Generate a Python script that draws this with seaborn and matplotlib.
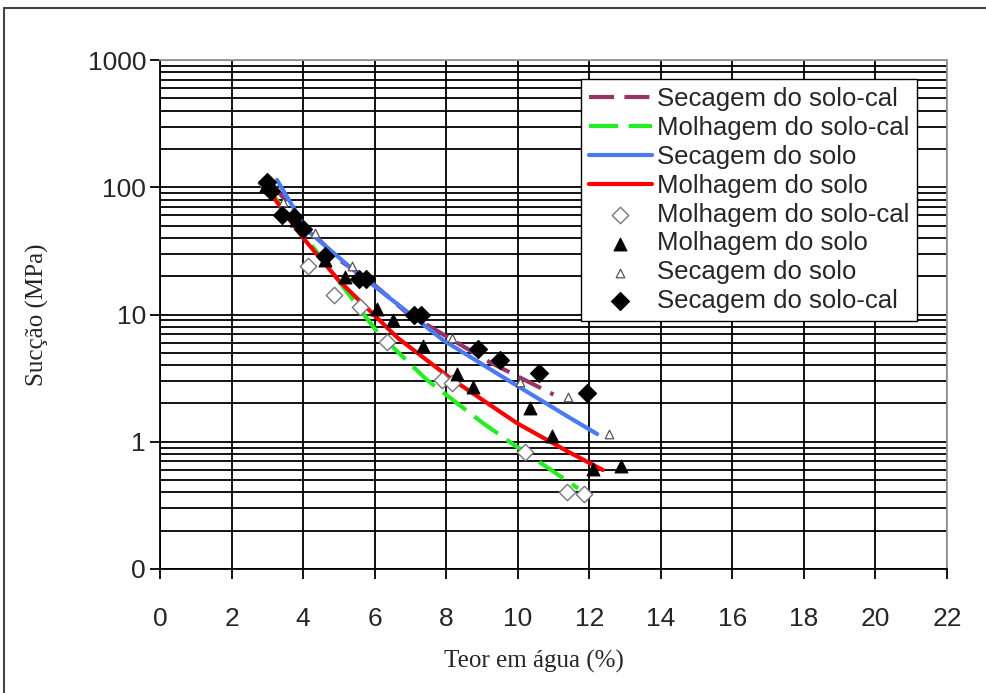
import numpy as np
import pandas as pd
import matplotlib
matplotlib.use("Agg")
import matplotlib.pyplot as plt
from matplotlib.lines import Line2D
from matplotlib.ticker import FixedLocator, LogLocator, NullFormatter
import seaborn as sns

# ---- fitted curves (teor em água %, sucção MPa) ----
sec_solocal_x = [3.1, 4.0, 5.0, 5.93, 6.9, 8.1, 9.23, 11.0]
sec_solocal_y = [110, 52, 27, 17.7, 10.3, 6.5, 4.2, 2.35]

mol_solocal_x = [2.88, 3.83, 5.54, 6.07, 7.46, 9.03, 9.98, 11.69]
mol_solocal_y = [108, 50, 11.5, 7.3, 3.06, 1.40, 0.91, 0.43]

sec_solo_x = [3.27, 4.11, 5.31, 6.6, 7.91, 9.7, 11.46, 12.22]
sec_solo_y = [114, 46, 23.6, 12.3, 6.3, 3.08, 1.54, 1.15]

mol_solo_x = [2.88, 4.0, 5.0, 6.63, 8.11, 9.98, 11.46, 12.38]
mol_solo_y = [108, 40, 18.5, 6.6, 3.17, 1.40, 0.82, 0.60]

# ---- measured points ----
pts_mol_solocal_x = [2.95, 4.14, 4.86, 5.59, 6.35, 7.88, 8.16, 10.2, 11.38, 11.85]
pts_mol_solocal_y = [108, 24, 14.2, 11.5, 6.1, 3.05, 2.9, 0.83, 0.40, 0.39]

pts_mol_solo_x = [2.95, 3.8, 4.6, 5.17, 6.07, 6.5, 7.35, 8.3, 8.75, 10.35, 10.95, 12.1, 12.9]
pts_mol_solo_y = [105, 55, 27, 19.7, 11, 9, 5.7, 3.4, 2.7, 1.85, 1.1, 0.61, 0.65]

pts_sec_solo_x = [3.0, 3.45, 4.33, 5.37, 7.25, 8.15, 9.55, 10.05, 11.4, 12.55]
pts_sec_solo_y = [112, 77, 44, 24, 10, 6.5, 4.5, 2.95, 2.25, 1.15]

pts_sec_solocal_x = [3.0, 3.1, 3.4, 3.75, 4.0, 4.6, 5.55, 5.75, 7.1, 7.3, 8.9, 9.5, 10.6, 11.95]
pts_sec_solocal_y = [110, 94, 60, 58, 47, 29, 19, 19, 10, 10, 5.4, 4.4, 3.5, 2.4]

x_ticks = list(range(0, 23, 2))
y_ticks = [0.1, 1, 10, 100, 1000]
y_tick_labels = ["0", "1", "10", "100", "1000"]

sns.set_style("white")
plt.rcParams["font.family"] = ["Liberation Sans", "DejaVu Sans"]

fig = plt.figure(figsize=(9.87, 6.93), dpi=100)
ax = fig.add_axes([160 / 987, 1 - 569 / 693, 787 / 987, 509 / 693])

line_specs = [
    (sec_solocal_x, sec_solocal_y, "Secagem do solo-cal", "#993366", (0, (6, 2.5))),
    (mol_solocal_x, mol_solocal_y, "Molhagem do solo-cal", "#22EE22", (0, (7, 2.5))),
    (sec_solo_x, sec_solo_y, "Secagem do solo", "#4A7BF5", "-"),
    (mol_solo_x, mol_solo_y, "Molhagem do solo", "#FF0000", "-"),
]
for xs, ys, lab, col, ls in line_specs:
    df = pd.DataFrame({"x": xs, "y": ys})
    sns.lineplot(data=df, x="x", y="y", ax=ax, sort=False, color=col,
                 linewidth=3.0, linestyle=ls, label=lab, zorder=3)

point_specs = [
    (pts_mol_solocal_x, pts_mol_solocal_y, "Molhagem do solo-cal", "D", "white", "#777777", 70, 1.0),
    (pts_mol_solo_x, pts_mol_solo_y, "Molhagem do solo", "^", "black", "black", 85, 0.8),
    (pts_sec_solo_x, pts_sec_solo_y, "Secagem do solo", "^", "white", "#555555", 38, 0.9),
    (pts_sec_solocal_x, pts_sec_solocal_y, "Secagem do solo-cal", "D", "black", "black", 85, 0.8),
]
for xs, ys, lab, mk, fc, ec, s, lw in point_specs:
    df = pd.DataFrame({"x": xs, "y": ys})
    sns.scatterplot(data=df, x="x", y="y", ax=ax, marker=mk, s=s,
                    facecolor=fc, edgecolor=ec, linewidth=lw, label=lab, zorder=4)

ax.set_yscale("log")
ax.set_xlim(0, 22)
ax.set_ylim(0.1, 1000)

ax.xaxis.set_major_locator(FixedLocator(x_ticks))
ax.set_xticklabels([str(v) for v in x_ticks])
ax.yaxis.set_major_locator(FixedLocator(y_ticks))
ax.set_yticklabels(y_tick_labels)
ax.yaxis.set_minor_locator(LogLocator(base=10, subs=np.arange(2, 10)))
ax.yaxis.set_minor_formatter(NullFormatter())

ax.grid(True, which="major", axis="both", color="black", linewidth=1.3)
ax.grid(True, which="minor", axis="y", color="black", linewidth=1.3)
ax.set_axisbelow(True)

ax.tick_params(axis="both", which="major", direction="out", length=7, width=1.3,
               color="black", left=True, bottom=True)
ax.tick_params(axis="x", which="major", labelsize=19, pad=20)
ax.tick_params(axis="y", which="major", labelsize=19, pad=3)
ax.tick_params(axis="y", which="minor", length=0)

for side in ["left", "bottom"]:
    ax.spines[side].set_color("black")
    ax.spines[side].set_linewidth(1.3)
for side in ["top", "right"]:
    ax.spines[side].set_color("#999999")
    ax.spines[side].set_linewidth(1.3)

ax.set_xlabel("Teor em água (%)", family=["Liberation Serif", "DejaVu Serif"], fontsize=18)
ax.set_ylabel("Sucção (MPa)", family=["Liberation Serif", "DejaVu Serif"], fontsize=18)
ax.xaxis.set_label_coords(0.475, -0.159)
ax.yaxis.set_label_coords(-0.141, 0.5)

leg = ax.legend(loc="upper right", bbox_to_anchor=(0.962, 0.962), fontsize=18.5,
                frameon=True, fancybox=False, framealpha=1, edgecolor="black",
                handlelength=2.45, handletextpad=0.2, labelspacing=0.19,
                borderpad=0.3, borderaxespad=0, markerscale=1.0)
leg.get_frame().set_linewidth(1.0)

# outer frame around the figure
fig.add_artist(Line2D([4 / 987, 4 / 987], [0, 1 - 8 / 693], transform=fig.transFigure,
                      color="#444444", linewidth=1.5))
fig.add_artist(Line2D([4 / 987, 1], [1 - 8 / 693, 1 - 8 / 693], transform=fig.transFigure,
                      color="#444444", linewidth=1.5))

fig.savefig("out.png", dpi=100)
